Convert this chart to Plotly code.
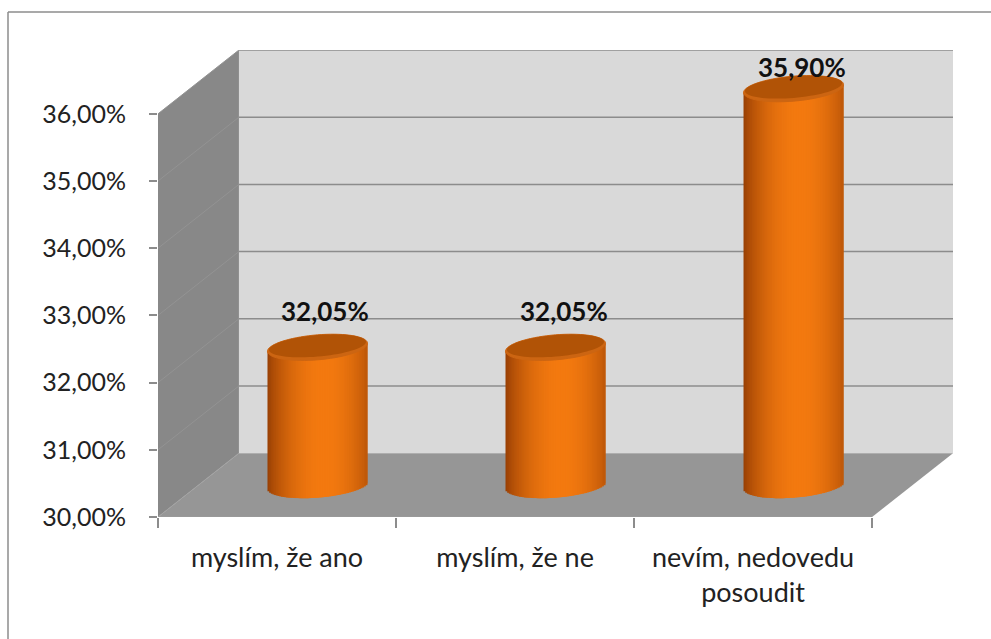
import numpy as np
import plotly.graph_objects as go

# Chart data
CATEGORIES = ["myslím, že ano", "myslím, že ne", "nevím, nedovedu<br>posoudit"]
VALUES = [32.05, 32.05, 35.90]
Y_TICKS = [30, 31, 32, 33, 34, 35, 36]
Y_TICK_LABELS = ["30,00%", "31,00%", "32,00%", "33,00%", "34,00%", "35,00%", "36,00%"]

# Canvas and plot-area geometry (pixels)
W, H = 991, 639
ML, MR, MT, MB = 158, 38, 50, 122

# Oblique 3D frame, in data units
Y0 = Y_TICKS[0]
DX = 0.34          # depth offset along x (category units)
DY = 0.95          # depth offset along y (percentage points)
Y1 = Y_TICKS[-1] + DY
XMAX = len(CATEGORIES) + DX
PX_X = (W - ML - MR) / XMAX
PX_Y = (H - MT - MB) / (Y1 - Y0)

BAR_W = 100 / PX_X        # cylinder diameter
CAP_B = 12.5 / PX_Y       # half-height of the elliptical caps
CAP_S = 4.0 / PX_Y        # cap tilt (right side slightly higher)
MID = DY / 2              # cylinders stand at half depth

centers = [i + 0.5 + DX / 2 for i in range(len(CATEGORIES))]

fig = go.Figure()

# Cylinder bodies: vertical slices with cylindrical shading
DARK = np.array([150, 62, 4])
BRIGHT = np.array([244, 122, 16])
NS = 60
DW = BAR_W / NS
for k in range(NS):
    uc = -1 + (2 * k + 1) / NS
    g = max(0.0, np.cos(np.pi / 2 * (uc - 0.12) / 1.12))
    col = DARK + (BRIGHT - DARK) * g ** 0.75
    color = "rgb({},{},{})".format(*[int(c) for c in col])
    sag = CAP_B * np.sqrt(max(0.0, 1 - uc * uc))
    base = [Y0 + MID + CAP_S * uc - sag for _ in VALUES]
    top = [v + MID + CAP_S * uc for v in VALUES]
    fig.add_trace(go.Bar(
        x=centers,
        y=[t - b for t, b in zip(top, base)],
        base=base,
        width=DW * (2.0 if k < NS - 1 else 1.0),
        offset=-BAR_W / 2 + k * DW,
        marker=dict(color=color, line=dict(width=0)),
        hoverinfo="skip",
        showlegend=False,
    ))

shapes = []

def poly(points, fill, line_color=None, line_width=0, layer="below"):
    path = "M " + " L ".join(f"{x},{y}" for x, y in points) + " Z"
    return dict(type="path", path=path, xref="x", yref="y", fillcolor=fill,
                line=dict(color=line_color or fill, width=line_width), layer=layer)

# Back wall
shapes.append(poly([(DX, Y0 + DY), (XMAX, Y0 + DY), (XMAX, Y1), (DX, Y1)], "#d9d9d9"))
# Side wall
shapes.append(poly([(0, Y0), (DX, Y0 + DY), (DX, Y1), (0, Y_TICKS[-1])], "#888888"))
# Floor
shapes.append(poly([(0, Y0), (len(CATEGORIES), Y0), (XMAX, Y0 + DY), (DX, Y0 + DY)], "#969696"))

# Gridlines on back wall and side wall
for v in Y_TICKS[1:]:
    shapes.append(dict(type="line", xref="x", yref="y", x0=DX, x1=XMAX, y0=v + DY, y1=v + DY,
                       line=dict(color="#8c8c8c", width=1.5), layer="below"))
    shapes.append(dict(type="line", xref="x", yref="y", x0=0, x1=DX, y0=v, y1=v + DY,
                       line=dict(color="#939393", width=1), layer="below"))
# Floor edges
shapes.append(dict(type="line", xref="x", yref="y", x0=0, x1=DX, y0=Y0, y1=Y0 + DY,
                   line=dict(color="#a2a2a2", width=1), layer="below"))
shapes.append(dict(type="line", xref="x", yref="y", x0=0, x1=len(CATEGORIES), y0=Y0, y1=Y0,
                   line=dict(color="#9c9c9c", width=1), layer="below"))

# Top caps
ts = np.linspace(0, 2 * np.pi, 73)
for cx, v in zip(centers, VALUES):
    cy = v + MID
    outer = [(cx + BAR_W / 2 * np.cos(t), cy + CAP_B * np.sin(t) + CAP_S * np.cos(t)) for t in ts]
    shapes.append(poly(outer, "#cc6512", "#cc6512", 1, layer="above"))
    inner = [(cx + BAR_W / 2 * 0.97 * np.cos(t),
              cy + CAP_B * 0.12 + CAP_B * 0.86 * np.sin(t) + CAP_S * np.cos(t)) for t in ts]
    shapes.append(poly(inner, "#b15306", layer="above"))

# Outer chart border (left and top edges)
pw, ph = W - ML - MR, H - MT - MB
bx0 = (8 - ML) / pw
bx1 = (W - ML) / pw
by_top = (H - MB - 12) / ph
by_bot = (H - MB - H) / ph
shapes.append(dict(type="line", xref="paper", yref="paper", x0=bx0, x1=bx0, y0=by_bot, y1=by_top,
                   line=dict(color="#8c8c8c", width=1.5), layer="above"))
shapes.append(dict(type="line", xref="paper", yref="paper", x0=bx0, x1=bx1, y0=by_top, y1=by_top,
                   line=dict(color="#8c8c8c", width=1.5), layer="above"))

# Value labels above the caps, kept inside the plot area
annotations = []
LABEL_GAP = 24 / PX_Y
LABEL_CEIL = Y1 - 17 / PX_Y
for cx, v in zip(centers, VALUES):
    annotations.append(dict(
        x=cx, y=min(v + MID + CAP_B + LABEL_GAP, LABEL_CEIL), xref="x", yref="y",
        text=f"{v:.2f}".replace(".", ",") + "%",
        showarrow=False, yanchor="middle", xanchor="center", xshift=8,
        font=dict(family="Lato", size=26, color="#111111", weight="bold"),
    ))

fig.update_layout(
    width=W, height=H,
    margin=dict(l=ML, r=MR, t=MT, b=MB, pad=0),
    paper_bgcolor="white", plot_bgcolor="white",
    barmode="overlay",
    shapes=shapes,
    annotations=annotations,
    font=dict(family="Lato", size=24, color="#222222"),
    xaxis=dict(
        range=[0, XMAX], showgrid=False, zeroline=False, showline=False,
        tickmode="array", tickvals=[i + 0.5 for i in range(len(CATEGORIES))],
        ticktext=CATEGORIES, ticks="", ticklabelstandoff=22,
        tickfont=dict(family="Lato", size=27, color="#222222"),
        minor=dict(tickmode="array", tickvals=list(range(len(CATEGORIES) + 1)),
                   ticks="outside", ticklen=10, tickcolor="#8c8c8c", tickwidth=1.5, showgrid=False),
        fixedrange=True,
    ),
    yaxis=dict(
        range=[Y0, Y1], showgrid=False, zeroline=False, showline=False,
        tickmode="array", tickvals=Y_TICKS, ticktext=Y_TICK_LABELS,
        ticks="outside", ticklen=8, tickcolor="#8c8c8c", tickwidth=1.5,
        ticklabelstandoff=18,
        tickfont=dict(family="Lato", size=25, color="#222222"),
        fixedrange=True,
    ),
)

fig.write_html("out.html")
